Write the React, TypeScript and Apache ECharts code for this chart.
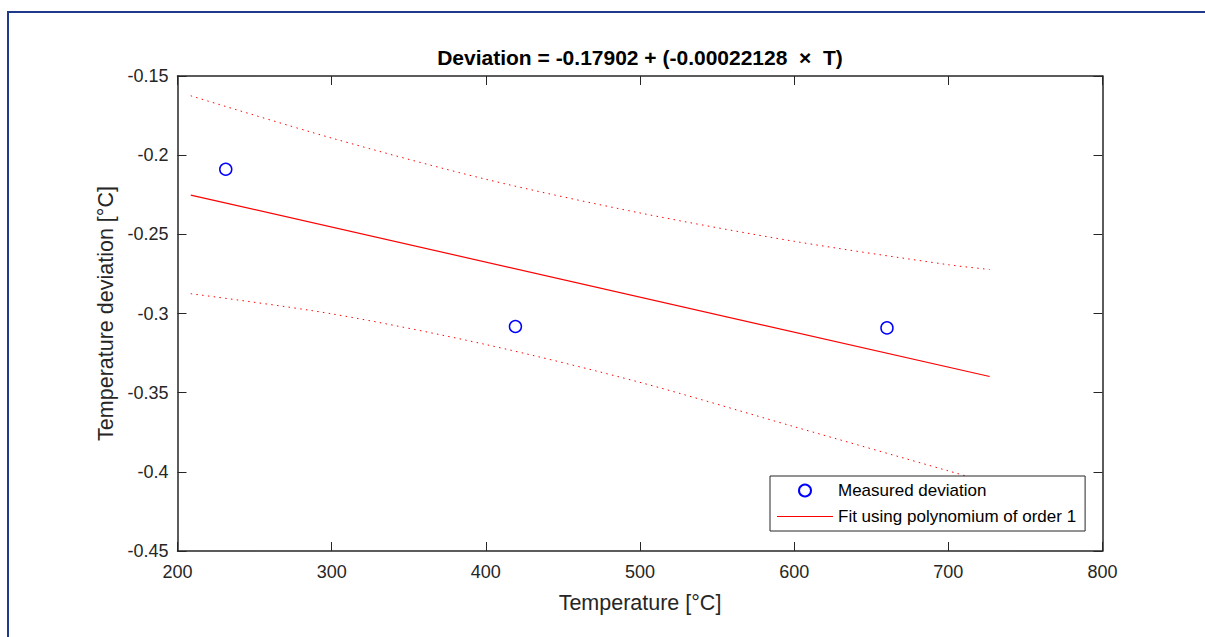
import React, { useEffect, useRef } from 'react';
import * as echarts from 'echarts';

const titleText = 'Deviation = -0.17902 + (-0.00022128  \u00d7  T)';
const xAxisName = 'Temperature [\u00b0C]';
const yAxisName = 'Temperature deviation [\u00b0C]';
const xMin = 200;
const xMax = 800;
const xInterval = 100;
const yMin = -0.45;
const yMax = -0.15;
const yInterval = 0.05;

const measuredName = 'Measured deviation';
const fitName = 'Fit using polynomium of order 1';

const measuredT = [231.3, 419.2, 660.2];
const measuredDev = [-0.2089, -0.3082, -0.3091];

const fitT = [208.6, 726.8];
const fitDev = [-0.2252, -0.3398];

const bandT = [208.6, 300, 400, 500, 600, 700, 726.8];
const upperBand = [-0.1625, -0.1892, -0.2152, -0.2365, -0.2544, -0.2692, -0.2722];
const lowerBand = [-0.2875, -0.3002, -0.3196, -0.3435, -0.3715, -0.3994, -0.407];

const FONT = '"Liberation Sans", Arial, Helvetica, sans-serif';
const AXIS_COLOR = '#262626';

export default function App() {
  const ref = useRef<HTMLDivElement>(null);

  useEffect(() => {
    if (!ref.current) return;
    const chart = echarts.init(ref.current, undefined, { renderer: 'svg' });
    const pairs = (xs: number[], ys: number[]) => xs.map((x, i) => [x, ys[i]]);

    const xCommon = {
      type: 'value',
      min: xMin,
      max: xMax,
      interval: xInterval,
      splitLine: { show: false },
      axisLine: { show: true, onZero: false, lineStyle: { color: AXIS_COLOR, width: 1.5 } },
      axisTick: { show: true, inside: true, length: 9, lineStyle: { color: AXIS_COLOR, width: 1 } },
    };
    const yCommon = {
      type: 'value',
      min: yMin,
      max: yMax,
      interval: yInterval,
      splitLine: { show: false },
      axisLine: { show: true, onZero: false, lineStyle: { color: AXIS_COLOR, width: 1.5 } },
      axisTick: { show: true, inside: true, length: 9, lineStyle: { color: AXIS_COLOR, width: 1 } },
    };

    chart.setOption({
      animation: false,
      backgroundColor: '#fff',
      textStyle: { fontFamily: FONT },
      title: {
        text: titleText,
        left: 640,
        textAlign: 'center',
        top: 47,
        padding: 0,
        textStyle: { fontSize: 21, fontWeight: 'bold', color: '#000', fontFamily: FONT },
      },
      grid: { left: 177.5, right: 102.5, top: 76, bottom: 86 },
      xAxis: [
        {
          ...xCommon,
          position: 'bottom',
          name: xAxisName,
          nameLocation: 'middle',
          nameGap: 41,
          nameTextStyle: { fontSize: 21.5, color: AXIS_COLOR, fontFamily: FONT },
          axisLabel: { show: true, margin: 12, fontSize: 18, color: AXIS_COLOR, fontFamily: FONT },
        },
        { ...xCommon, position: 'top', axisLabel: { show: false } },
      ],
      yAxis: [
        {
          ...yCommon,
          position: 'left',
          name: yAxisName,
          nameLocation: 'middle',
          nameGap: 59,
          nameTextStyle: { fontSize: 21.5, color: AXIS_COLOR, fontFamily: FONT },
          axisLabel: {
            show: true,
            margin: 9,
            fontSize: 18,
            color: AXIS_COLOR,
            fontFamily: FONT,
            formatter: (v: number) => String(+v.toFixed(2)),
          },
        },
        { ...yCommon, position: 'right', axisLabel: { show: false } },
      ],
      legend: {
        data: [
          { name: measuredName, icon: 'circle' },
          { name: fitName, icon: 'path://M0,0H56V1.2H0Z' },
        ],
        orient: 'vertical',
        left: 770,
        top: 476,
        itemWidth: 56,
        itemHeight: 12,
        itemGap: 9,
        padding: [6, 9, 6, 7],
        backgroundColor: '#fff',
        borderColor: AXIS_COLOR,
        borderWidth: 1,
        borderRadius: 0,
        selectedMode: false,
        textStyle: { fontSize: 17, color: '#000', fontFamily: FONT },
      },
      graphic: [
        {
          type: 'line',
          shape: { x1: 7, y1: 12, x2: 1205, y2: 12 },
          style: { stroke: '#1f3a8a', lineWidth: 2 },
          z: 100,
        },
        {
          type: 'line',
          shape: { x1: 8, y1: 11, x2: 8, y2: 637 },
          style: { stroke: '#1f3a8a', lineWidth: 2 },
          z: 100,
        },
      ],
      series: [
        {
          name: 'Upper bound',
          type: 'line',
          data: pairs(bandT, upperBand),
          smooth: 0.3,
          symbol: 'none',
          lineStyle: { color: '#ff0000', width: 1, type: [1.5, 4.3] },
          z: 2,
        },
        {
          name: 'Lower bound',
          type: 'line',
          data: pairs(bandT, lowerBand),
          smooth: 0.3,
          symbol: 'none',
          lineStyle: { color: '#ff0000', width: 1, type: [1.5, 4.3] },
          z: 2,
        },
        {
          name: fitName,
          type: 'line',
          data: pairs(fitT, fitDev),
          symbol: 'none',
          itemStyle: { color: '#ff0000' },
          lineStyle: { color: '#ff0000', width: 1.2 },
          z: 3,
        },
        {
          name: measuredName,
          type: 'scatter',
          data: pairs(measuredT, measuredDev),
          symbol: 'circle',
          symbolSize: 12,
          itemStyle: { color: '#ffffff', borderColor: '#0000ff', borderWidth: 1.5, opacity: 1 },
          z: 4,
        },
      ],
    });

    return () => {
      chart.dispose();
    };
  }, []);

  return (
    <div
      ref={ref}
      style={{ position: 'fixed', left: 0, top: 0, width: 1205, height: 637 }}
    />
  );
}
